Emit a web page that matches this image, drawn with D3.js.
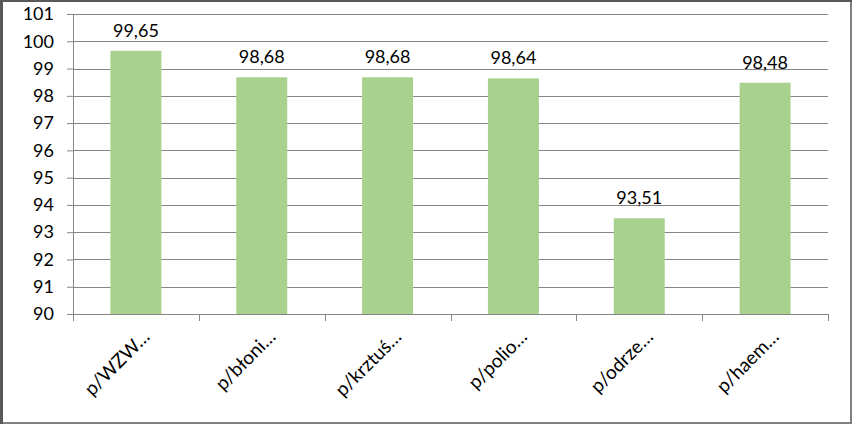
<!DOCTYPE html>
<html>
<head>
<meta charset="utf-8">
<script src="https://cdn.jsdelivr.net/npm/d3@7"></script>
<style>
  body { margin: 0; background: #fff; }
  text { font-family: Lato, "Open Sans", sans-serif; fill: #000; }
</style>
</head>
<body>
<div id="chart"></div>
<script>
const categories = ["p/WZW…", "p/błoni…", "p/krztuś…", "p/polio…", "p/odrze…", "p/haem…"];
const values = [99.65, 98.68, 98.68, 98.64, 93.51, 98.48];
const valueLabels = ["99,65", "98,68", "98,68", "98,64", "93,51", "98,48"];
const yTicks = [90, 91, 92, 93, 94, 95, 96, 97, 98, 99, 100, 101];

const width = 855;
const height = 424;
const margin = { top: 14, left: 73, bottom: 110, right: 27 };
const iwidth = width - margin.left - margin.right;
const iheight = height - margin.top - margin.bottom;

const svg = d3.select("#chart").append("svg")
  .attr("width", width)
  .attr("height", height);

// chart frame
svg.append("rect")
  .attr("x", 1).attr("y", 1)
  .attr("width", 850).attr("height", 422)
  .attr("fill", "#fff")
  .attr("stroke", "#808080")
  .attr("stroke-width", 2);
svg.append("line")
  .attr("x1", 1.5).attr("x2", 1.5).attr("y1", 0).attr("y2", 424)
  .attr("stroke", "#595959").attr("stroke-width", 3);
svg.append("line")
  .attr("x1", 0).attr("x2", 852).attr("y1", 1).attr("y2", 1)
  .attr("stroke", "#595959").attr("stroke-width", 2);

const g = svg.append("g")
  .attr("transform", `translate(${margin.left},${margin.top})`);

const y = d3.scaleLinear().domain([90, 101]).range([iheight, 0]);
const x = d3.scaleBand()
  .domain(categories)
  .range([0, iwidth])
  .paddingInner(0.595)
  .paddingOuter(0.2975);

// gridlines
g.append("g")
  .selectAll("line")
  .data(yTicks)
  .enter()
  .append("line")
  .attr("x1", 0)
  .attr("x2", iwidth)
  .attr("y1", (d) => Math.round(y(d)) + 0.5)
  .attr("y2", (d) => Math.round(y(d)) + 0.5)
  .attr("stroke", "#868686");

// bars
g.selectAll("rect.bar")
  .data(values)
  .enter()
  .append("rect")
  .attr("class", "bar")
  .attr("fill", "#A9D18E")
  .attr("x", (d, i) => x(categories[i]))
  .attr("y", (d) => y(d))
  .attr("width", x.bandwidth())
  .attr("height", (d) => iheight - y(d));

// value labels
g.selectAll("text.val")
  .data(values)
  .enter()
  .append("text")
  .attr("class", "val")
  .attr("x", (d, i) => x(categories[i]) + x.bandwidth() / 2)
  .attr("y", (d) => y(d) - 14)
  .attr("text-anchor", "middle")
  .style("font-size", "18px")
  .text((d, i) => valueLabels[i]);

// y axis
const yAxis = g.append("g")
  .call(d3.axisLeft(y).tickValues(yTicks).tickSize(6).tickPadding(13).tickFormat(d3.format("d")));
yAxis.select(".domain").attr("stroke", "#868686").attr("d", `M0.5,0V${iheight}`);
yAxis.selectAll(".tick line").attr("stroke", "#868686");
yAxis.selectAll("text").style("font-size", "18px").style("font-family", "Lato, sans-serif");

// x axis with ticks at band boundaries
const step = x.step();
const boundaries = d3.range(categories.length + 1).map((i) => i * step);
const xg = g.append("g").attr("transform", `translate(0,${iheight})`);
xg.append("line")
  .attr("x1", 0).attr("x2", iwidth)
  .attr("y1", 0.5).attr("y2", 0.5)
  .attr("stroke", "#868686");
xg.selectAll("line.tk")
  .data(boundaries)
  .enter()
  .append("line")
  .attr("class", "tk")
  .attr("x1", (d) => Math.round(d) + 0.5)
  .attr("x2", (d) => Math.round(d) + 0.5)
  .attr("y1", 0)
  .attr("y2", 7)
  .attr("stroke", "#868686");
xg.selectAll("text.cat")
  .data(categories)
  .enter()
  .append("text")
  .attr("class", "cat")
  .attr("text-anchor", "end")
  .style("font-size", "19px")
  .attr("transform", (d) => `translate(${x(d) + x.bandwidth() / 2 + 15},${24}) rotate(-45)`)
  .text((d) => d);
</script>
</body>
</html>
